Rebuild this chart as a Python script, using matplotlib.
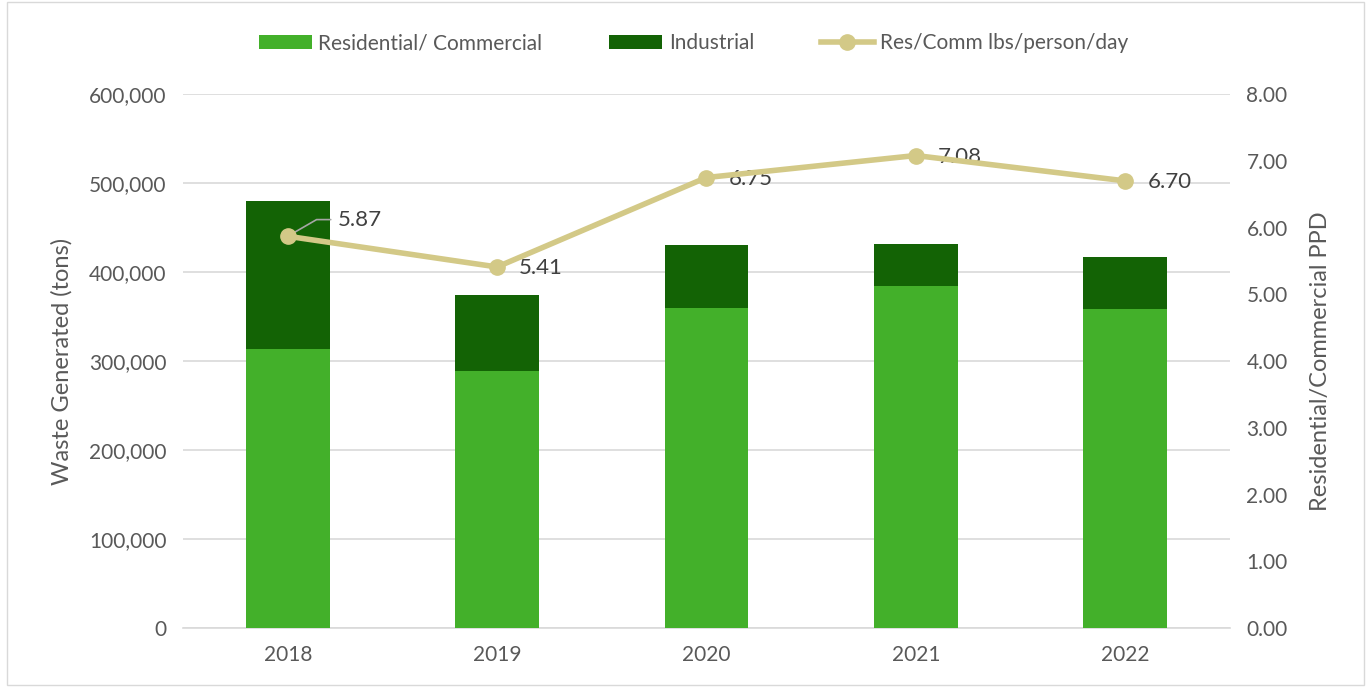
import numpy as np
import matplotlib.pyplot as plt
from matplotlib.patches import Rectangle
from matplotlib.ticker import FuncFormatter

plt.rcParams['font.family'] = ['Lato', 'DejaVu Sans']

years = ['2018', '2019', '2020', '2021', '2022']
residential = [313500, 289000, 360000, 384000, 359000]
industrial_total = [480000, 374000, 430000, 432000, 416500]
industrial = [t - r for t, r in zip(industrial_total, residential)]
ppd = [5.87, 5.41, 6.75, 7.08, 6.70]
ppd_labels = ['5.87', '5.41', '6.75', '7.08', '6.70']

green_light = '#43b02a'
green_dark = '#136305'
khaki = '#d3c987'
txt = '#595959'

fig = plt.figure(figsize=(13.71, 6.87), dpi=100)
ax = fig.add_axes([0.1335, 0.0859, 0.7635, 0.7771])
x = np.arange(len(years))

ax.bar(x, residential, width=0.4, color=green_light, label='Residential/ Commercial', zorder=3)
ax.bar(x, industrial, width=0.4, bottom=residential, color=green_dark, label='Industrial', zorder=3)

ax.set_xlim(-0.5, 4.5)
ax.set_ylim(0, 600000)
ax.set_yticks(np.arange(0, 600001, 100000))
ax.yaxis.set_major_formatter(FuncFormatter(lambda v, p: f'{int(v):,}'))
ax.set_xticks(x)
ax.set_xticklabels(years)
ax.grid(axis='y', color='#d9d9d9', linewidth=1.2, zorder=0)
for s in ['top', 'left', 'right']:
    ax.spines[s].set_visible(False)
ax.spines['bottom'].set_color('#d9d9d9')
ax.spines['bottom'].set_linewidth(1.2)
ax.tick_params(axis='both', length=0, labelsize=15, labelcolor=txt, pad=12)
ax.set_ylabel('Waste Generated (tons)', fontsize=17, color=txt, labelpad=12)

ax2 = ax.twinx()
ax2.plot(x, ppd, color=khaki, linewidth=4, marker='o', markersize=11,
         label='Res/Comm lbs/person/day', zorder=4)
ax2.set_ylim(0, 8)
ax2.set_yticks(np.arange(0, 8.01, 1))
ax2.yaxis.set_major_formatter(FuncFormatter(lambda v, p: f'{v:.2f}'))
for s in ['top', 'left', 'right', 'bottom']:
    ax2.spines[s].set_visible(False)
ax2.tick_params(axis='y', length=0, labelsize=15, labelcolor=txt, pad=12)
ax2.set_ylabel('Residential/Commercial PPD', fontsize=17, color=txt, labelpad=16)

for i, (v, lab) in enumerate(zip(ppd, ppd_labels)):
    if i == 0:
        ax2.annotate(lab, (x[i], v), xytext=(36, 12), textcoords='offset points',
                     fontsize=16, color='#404040', va='center', ha='left',
                     arrowprops=dict(arrowstyle='-', color='#a6a6a6', lw=1.2,
                                     connectionstyle='angle,angleA=0,angleB=30,rad=0',
                                     shrinkA=3, shrinkB=0))
    else:
        ax2.annotate(lab, (x[i], v), xytext=(16, -1), textcoords='offset points',
                     fontsize=16, color='#404040', va='center', ha='left')

h1, l1 = ax.get_legend_handles_labels()
h2, l2 = ax2.get_legend_handles_labels()
fig.legend(h1 + h2, l1 + l2, loc='center', bbox_to_anchor=(0.506, 0.937), ncol=3,
           frameon=False, fontsize=15, labelcolor=txt, handlelength=2.55,
           columnspacing=3.2, handletextpad=0.3)

fig.patches.append(Rectangle((0.005, 0.003), 0.99, 0.994, transform=fig.transFigure,
                             fill=False, edgecolor='#d9d9d9', linewidth=1))

fig.savefig('out.png', dpi=100)
